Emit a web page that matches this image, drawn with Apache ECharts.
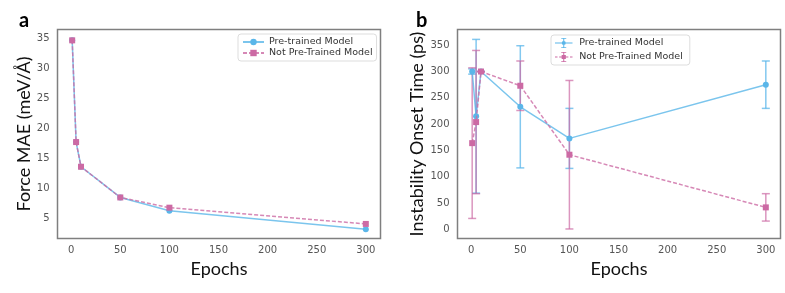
<!DOCTYPE html>
<html>
<head>
<meta charset="utf-8">
<script src="https://cdn.jsdelivr.net/npm/echarts@6/dist/echarts.min.js"></script>
<style>
html,body{margin:0;padding:0;background:#fff;}
#c{width:785px;height:293px;}
</style>
</head>
<body>
<div id="c"></div>
<script>
// ---- data ----
const epochs = [1, 5, 10, 50, 100, 300];
const xTicks = [0, 50, 100, 150, 200, 250, 300];
const maeTicks = [5, 10, 15, 20, 25, 30, 35];
const onsetTicks = [0, 50, 100, 150, 200, 250, 300, 350];
const maePre = [34.6, 17.7, 13.6, 8.5, 6.3, 3.2];
const maeNot = [34.6, 17.7, 13.6, 8.5, 6.8, 4.1];
const onsetPre = [300, 215, 300, 233, 173, 275];
const onsetPreErr = [5, 146, 0, 116, 57, 45];
const onsetNot = [164, 204, 300, 273, 142, 42];
const onsetNotErr = [143, 136, 0, 47, 141, 26];
const seriesNames = ['Pre-trained Model', 'Not Pre-Trained Model'];

// ---- style ----
const BLUE = '#5ab6e9';
const BLUE_LINE = 'rgba(90,182,233,0.8)';
const PINK = '#cc6aa4';
const PINK_LINE = 'rgba(204,106,164,0.8)';
const TICK_FONT = 'DejaVu Sans';
const TITLE_FONT = 'Lato';

const chart = echarts.init(document.getElementById('c'), null, {renderer: 'canvas'});

function xAxisDef(gi) {
  return {
    type: 'value', gridIndex: gi, min: -13.95, max: 314.95,
    name: 'Epochs', nameLocation: 'middle', nameGap: 21,
    nameTextStyle: {fontFamily: TITLE_FONT, fontSize: 18, color: '#111'},
    axisLine: {show: false}, axisTick: {show: false}, splitLine: {show: false},
    axisLabel: {customValues: xTicks, fontFamily: TICK_FONT, fontSize: 10, color: '#555', margin: 7}
  };
}
function yAxisDef(gi, name, min, max, ticks) {
  return {
    type: 'value', gridIndex: gi, min: min, max: max,
    name: name, nameLocation: 'middle', nameGap: 24, nameRotate: 90,
    nameTextStyle: {fontFamily: TITLE_FONT, fontSize: 18, color: '#111'},
    axisLine: {show: false}, axisTick: {show: false}, splitLine: {show: false},
    axisLabel: {customValues: ticks, fontFamily: TICK_FONT, fontSize: 10, color: '#555', margin: 8}
  };
}

function errRender(color) {
  return function (params, api) {
    const x = api.value(0), y = api.value(1), e = api.value(2);
    const top = api.coord([x, y + e]);
    const bot = api.coord([x, y - e]);
    const hw = 4;
    const st = {stroke: color, lineWidth: 1.5, fill: null};
    return {
      type: 'group',
      children: [
        {type: 'line', shape: {x1: top[0], y1: top[1], x2: bot[0], y2: bot[1]}, style: st},
        {type: 'line', shape: {x1: top[0] - hw, y1: top[1], x2: top[0] + hw, y2: top[1]}, style: st},
        {type: 'line', shape: {x1: bot[0] - hw, y1: bot[1], x2: bot[0] + hw, y2: bot[1]}, style: st}
      ]
    };
  };
}

const pairs = (xs, ys) => xs.map((x, i) => [x, ys[i]]);
const triples = (xs, ys, es) => xs.map((x, i) => [x, ys[i], es[i]]);

// legend icons (error bar style) for panel b
const ICON_BLUE = 'path://M0,5.4H21V6.6H0Z M9.9,0H11.1V12H9.9Z M7.5,0H13.5V1H7.5Z M7.5,11H13.5V12H7.5Z M8,6A2.5,2.5 0 1 1 13,6A2.5,2.5 0 1 1 8,6Z';
const ICON_PINK = 'path://M0,5.4H3V6.6H0Z M5,5.4H8V6.6H5Z M13,5.4H16V6.6H13Z M18,5.4H21V6.6H18Z M9.9,0H11.1V12H9.9Z M7.5,0H13.5V1H7.5Z M7.5,11H13.5V12H7.5Z M8,3.5H13V8.5H8Z';

const option = {
  backgroundColor: '#fff',
  animation: false,
  title: [
    {text: 'a', left: 14, top: 6, textStyle: {fontFamily: TITLE_FONT, fontWeight: 'bold', fontSize: 20, color: '#000'}},
    {text: 'b', left: 411, top: 6, textStyle: {fontFamily: TITLE_FONT, fontWeight: 'bold', fontSize: 20, color: '#000'}}
  ],
  grid: [
    {left: 57.5, top: 29.5, width: 323, height: 209, show: true, borderColor: '#7f7f7f', borderWidth: 1.5, backgroundColor: '#fff'},
    {left: 457.5, top: 29.5, width: 323, height: 209, show: true, borderColor: '#7f7f7f', borderWidth: 1.5, backgroundColor: '#fff'}
  ],
  xAxis: [xAxisDef(0), xAxisDef(1)],
  yAxis: [
    yAxisDef(0, 'Force MAE (meV/Å)', 1.68, 36.4, maeTicks),
    yAxisDef(1, 'Instability Onset Time (ps)', -17.1, 379.8, onsetTicks)
  ],
  legend: [
    {
      data: [{name: seriesNames[0]}, {name: seriesNames[1]}],
      orient: 'vertical', left: 238, top: 34,
      padding: [3, 4, 3, 4], itemGap: 1, itemWidth: 21, itemHeight: 8,
      backgroundColor: '#fff', borderColor: '#dddddd', borderWidth: 1, borderRadius: 3,
      textStyle: {fontFamily: TICK_FONT, fontSize: 9.5, color: '#333', lineHeight: 9},
      selectedMode: false
    },
    {
      data: [{name: seriesNames[0] + ' ', icon: ICON_BLUE}, {name: seriesNames[1] + ' ', icon: ICON_PINK}],
      orient: 'vertical', left: 551, top: 35,
      padding: [3, 4, 3, 4], itemGap: 4, itemWidth: 21, itemHeight: 10,
      backgroundColor: '#fff', borderColor: '#dddddd', borderWidth: 1, borderRadius: 3,
      textStyle: {fontFamily: TICK_FONT, fontSize: 9.5, color: '#333', lineHeight: 10},
      selectedMode: false
    }
  ],
  series: [
    {
      name: seriesNames[0], type: 'line', xAxisIndex: 0, yAxisIndex: 0,
      data: pairs(epochs, maePre), symbol: 'circle', symbolSize: 6,
      itemStyle: {color: BLUE}, lineStyle: {color: BLUE_LINE, width: 1.5}, z: 3
    },
    {
      name: seriesNames[1], type: 'line', xAxisIndex: 0, yAxisIndex: 0,
      data: pairs(epochs, maeNot), symbol: 'rect', symbolSize: 6,
      itemStyle: {color: PINK}, lineStyle: {color: PINK_LINE, width: 1.5, type: [4, 2]}, z: 4
    },
    {
      name: seriesNames[0] + ' ', type: 'custom', xAxisIndex: 1, yAxisIndex: 1,
      data: triples(epochs, onsetPre, onsetPreErr), renderItem: errRender('rgba(90,182,233,0.75)'),
      itemStyle: {color: BLUE}, z: 2
    },
    {
      name: seriesNames[0] + ' ', type: 'line', xAxisIndex: 1, yAxisIndex: 1,
      data: pairs(epochs, onsetPre), symbol: 'circle', symbolSize: 6,
      itemStyle: {color: BLUE}, lineStyle: {color: BLUE_LINE, width: 1.5}, z: 3
    },
    {
      name: seriesNames[1] + ' ', type: 'custom', xAxisIndex: 1, yAxisIndex: 1,
      data: triples(epochs, onsetNot, onsetNotErr), renderItem: errRender('rgba(204,106,164,0.7)'),
      itemStyle: {color: PINK}, z: 2
    },
    {
      name: seriesNames[1] + ' ', type: 'line', xAxisIndex: 1, yAxisIndex: 1,
      data: pairs(epochs, onsetNot), symbol: 'rect', symbolSize: 6,
      itemStyle: {color: PINK}, lineStyle: {color: PINK_LINE, width: 1.5, type: [4, 2]}, z: 4
    }
  ]
};
chart.setOption(option);
</script>
</body>
</html>
